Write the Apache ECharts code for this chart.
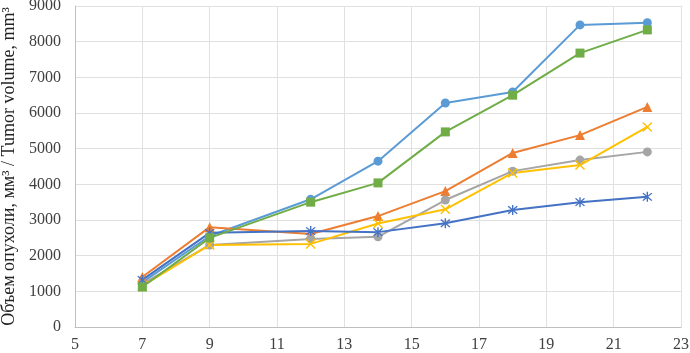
<!DOCTYPE html>
<html><head><meta charset="utf-8">
<script src="https://cdn.jsdelivr.net/npm/echarts@6/dist/echarts.min.js"></script>
<style>html,body{margin:0;padding:0;background:#fff}#c{width:690px;height:353px}</style>
</head><body><div id="c"></div>
<script>
const days = [7, 9, 12, 14, 16, 18, 20, 22];
const seriesBlue = [1250, 2550, 3580, 4650, 6280, 6590, 8470, 8530];
const seriesOrange = [1400, 2800, 2610, 3110, 3810, 4880, 5380, 6170];
const seriesGray = [1200, 2300, 2470, 2530, 3560, 4370, 4680, 4910];
const seriesYellow = [1150, 2300, 2330, 2900, 3300, 4320, 4540, 5610];
const seriesDarkBlue = [1320, 2640, 2690, 2660, 2910, 3280, 3500, 3650];
const seriesGreen = [1120, 2500, 3500, 4040, 5470, 6500, 7680, 8330];
const yTitle = 'Объем опухоли, мм³ / Tumor volume, mm³';

const xShape = 'path://M0,1 L1,0 L5,4 L9,0 L10,1 L6,5 L10,9 L9,10 L5,6 L1,10 L0,9 L4,5 Z';
const starShape = 'path://M0,1 L1,0 L5,4 L9,0 L10,1 L6,5 L10,9 L9,10 L5,6 L1,10 L0,9 L4,5 Z M4.3,-1 L5.7,-1 L5.7,11 L4.3,11 Z';

function mk(name, vals, color, symbol, size) {
  return {
    name: name, type: 'line', data: days.map((d, i) => [d, vals[i]]),
    symbol: symbol, symbolSize: size,
    lineStyle: {color: color, width: 2},
    itemStyle: {color: color},
    emphasis: {disabled: true}
  };
}
const chart = echarts.init(document.getElementById('c'));
const serif = 'Liberation Serif';
chart.setOption({
  animation: false,
  grid: {left: 75, right: 9, top: 6, bottom: 26, containLabel: false, outerBoundsMode: 'none'},
  xAxis: {
    type: 'value', min: 5, max: 23, interval: 2,
    axisLine: {lineStyle: {color: '#bfbfbf'}},
    axisTick: {show: false},
    axisLabel: {fontFamily: serif, fontSize: 16, color: '#404040', margin: 10},
    splitLine: {show: true, lineStyle: {color: '#e0e0e0'}}
  },
  yAxis: {
    type: 'value', min: 0, max: 9000, interval: 1000,
    name: yTitle, nameLocation: 'middle', nameGap: 55,
    nameTextStyle: {fontFamily: serif, fontSize: 18, color: '#222'},
    axisLine: {show: true, lineStyle: {color: '#bfbfbf'}},
    axisTick: {show: false},
    axisLabel: {fontFamily: serif, fontSize: 16, color: '#404040', margin: 14, formatter: v => String(v)},
    splitLine: {show: true, lineStyle: {color: '#e0e0e0'}}
  },
  series: [
    mk('1', seriesBlue, '#5B9BD5', 'circle', 9),
    mk('2', seriesOrange, '#ED7D31', 'triangle', 10),
    mk('3', seriesGray, '#A5A5A5', 'circle', 9),
    mk('4', seriesYellow, '#FFC000', xShape, 10),
    mk('5', seriesDarkBlue, '#4472C4', starShape, 10),
    mk('6', seriesGreen, '#70AD47', 'rect', 9)
  ]
});
</script></body></html>
